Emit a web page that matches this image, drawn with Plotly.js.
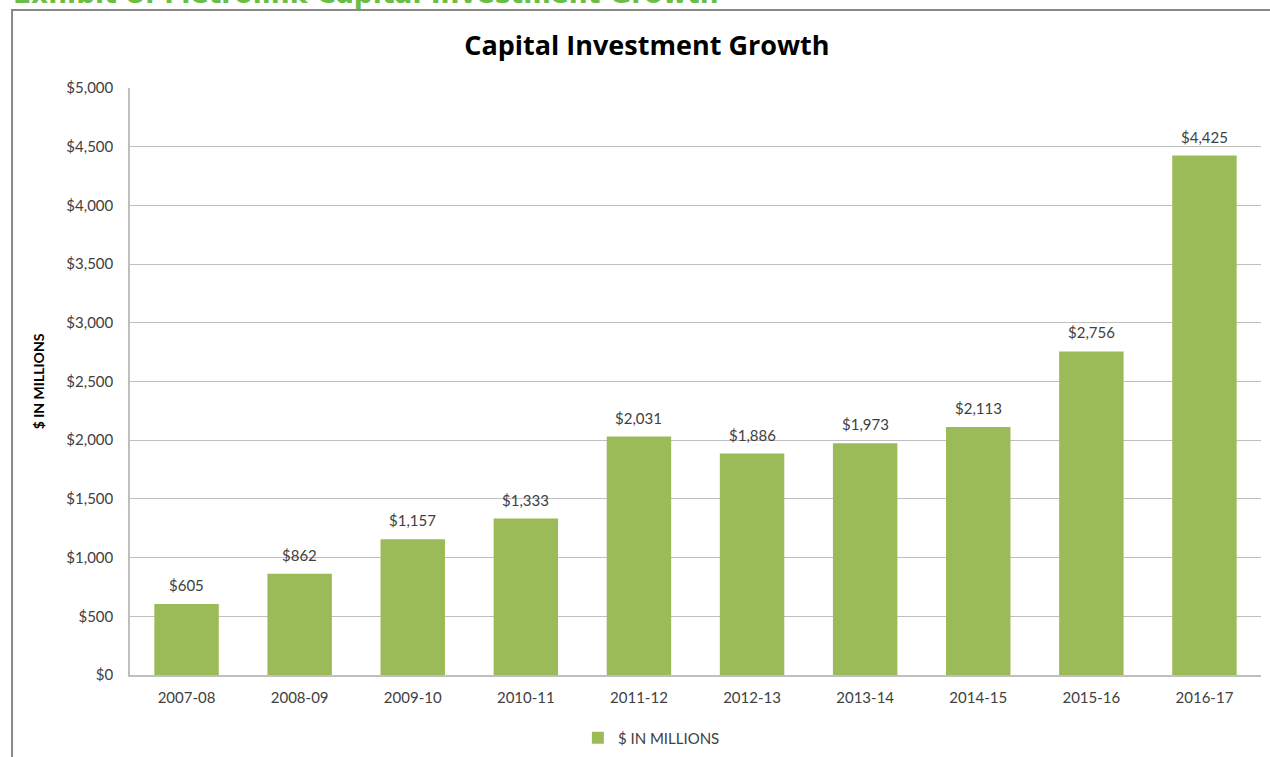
<!DOCTYPE html>
<html><head><meta charset="utf-8">
<script src="https://cdn.plot.ly/plotly-3.0.1.min.js"></script>
<style>html,body{margin:0;padding:0;background:#fff}#chart{width:1270px;height:757px}</style>
</head><body><div id="chart"></div>
<script>
const years = ["2007-08","2008-09","2009-10","2010-11","2011-12","2012-13","2013-14","2014-15","2015-16","2016-17"];
const investment = [605, 862, 1157, 1333, 2031, 1886, 1973, 2113, 2756, 4425];
const yTickVals = [0,500,1000,1500,2000,2500,3000,3500,4000,4500,5000];
const yTickText = ["$0","$500","$1,000","$1,500","$2,000","$2,500","$3,000","$3,500","$4,000","$4,500","$5,000"];
const seriesName = "$ IN MILLIONS";

const font = "Lato, sans-serif";
const trace = {
  type: "bar", x: years, y: investment, name: seriesName,
  marker: {color: "#9BBB59"},
  hoverinfo: "x+y"
};
const labelAnn = years.map((yr, i) => ({
  x: yr, y: investment[i], xref: "x", yref: "y", yanchor: "bottom", yshift: 8,
  text: "$" + investment[i].toLocaleString("en-US"), showarrow: false,
  font: {family: font, size: 15, color: "#404040"}
}));
const layout = {
  width: 1270, height: 757,
  margin: {l: 130, r: 9, t: 88, b: 82},
  paper_bgcolor: "#fff", plot_bgcolor: "#fff",
  bargap: 0.43,
  showlegend: true,
  legend: {orientation: "h", x: 0.461, xanchor: "center", yref: "container", y: 0.025, yanchor: "middle",
           font: {family: font, size: 15, color: "#404040"}},
  title: {text: "<b>Capital Investment Growth</b>", x: 0.457, xref: "paper", xanchor: "center",
          y: 0.94, yanchor: "middle", font: {family: "Open Sans, sans-serif", size: 27, color: "#000"}},
  xaxis: {type: "category", showgrid: false, showline: true, linecolor: "#bfbfbf", linewidth: 1.5,
          ticks: "", ticklabelstandoff: 8, tickfont: {family: font, size: 15, color: "#404040"}},
  yaxis: {range: [0, 5000], tickvals: yTickVals, ticktext: yTickText,
          showgrid: true, gridcolor: "#bfbfbf", gridwidth: 1, zeroline: false,
          showline: true, linecolor: "#bfbfbf", linewidth: 1.5, ticks: "", ticklabelstandoff: 12,
          tickfont: {family: font, size: 15, color: "#404040"},
          title: {text: "<b>$ IN MILLIONS</b>", standoff: 18, font: {family: font, size: 14, color: "#000"}}},
  shapes: [{type: "rect", xref: "paper", yref: "paper", x0: -0.1043, x1: 1.3, y0: -0.5, y1: 1.1329,
            line: {color: "#888", width: 2}, fillcolor: "rgba(0,0,0,0)", layer: "below"}],
  annotations: labelAnn.concat([{text: "<b>Exhibit 8: Metrolink Capital Investment Growth</b>", xref: "paper", yref: "paper",
                 x: -0.105, xanchor: "left", y: 1.1315, yanchor: "bottom", showarrow: false,
                 font: {family: "DejaVu Sans, sans-serif", size: 26.5, color: "#6ABD45"}}])
};
Plotly.newPlot("chart", [trace], layout, {displayModeBar: false});
</script></body></html>
